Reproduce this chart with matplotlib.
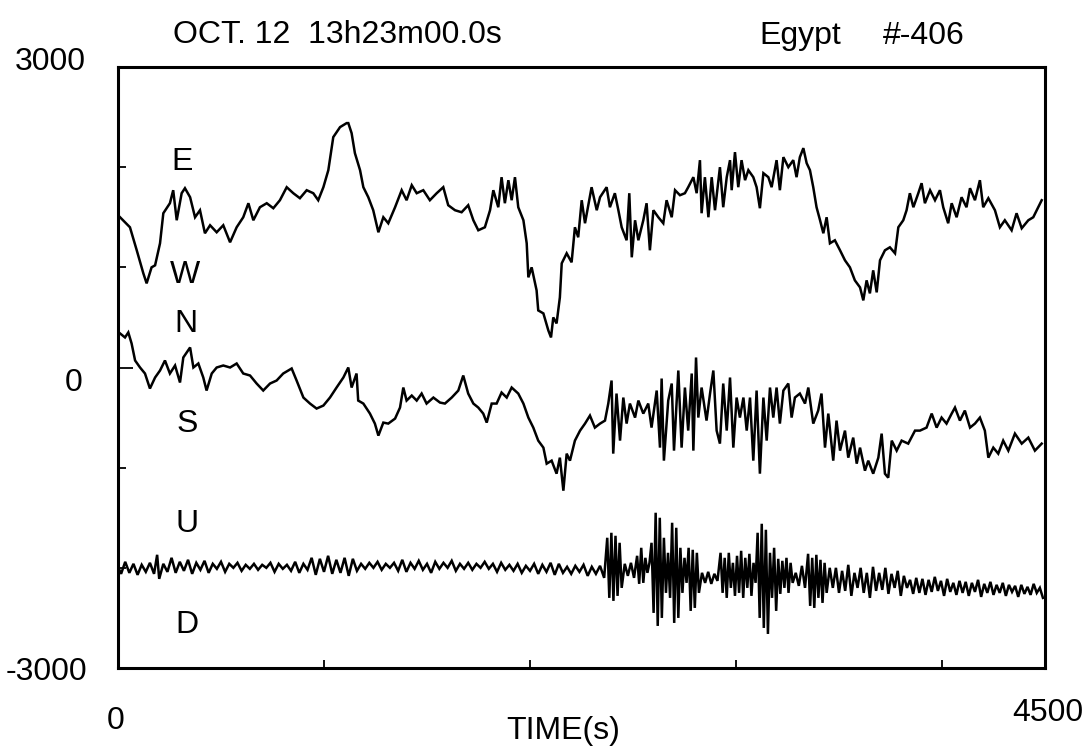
import numpy as np
import matplotlib
matplotlib.use("Agg")
from matplotlib import pyplot as plt

plt.rcParams['font.family'] = ['Liberation Sans', 'DejaVu Sans']

#  E-W component (time s, amplitude)
ew_t = [10, 58, 91, 123, 139, 163, 180, 204, 220, 252, 268, 285, 309, 325, 350, 374, 398, 422, 447, 479,
        511, 544, 576, 608, 633, 657, 689, 722, 754, 786, 819, 851, 883, 916, 948, 972, 997, 1021, 1045, 1078,
        1110, 1118, 1134, 1150, 1175, 1191, 1215, 1239, 1264, 1288, 1312, 1345, 1377, 1401, 1426, 1450, 1482, 1514, 1547, 1579,
        1603, 1636, 1668, 1700, 1725, 1749, 1781, 1806, 1822, 1846, 1862, 1878, 1895, 1911, 1927, 1943, 1968, 1984, 1992, 2008,
        2032, 2040, 2065, 2089, 2102, 2113, 2129, 2145, 2154, 2178, 2202, 2218, 2234, 2251, 2267, 2299, 2324, 2340, 2372, 2388,
        2412, 2429, 2445, 2469, 2482, 2494, 2510, 2526, 2550, 2566, 2582, 2599, 2623, 2647, 2663, 2688, 2704, 2728, 2752, 2768,
        2793, 2809, 2825, 2833, 2849, 2866, 2882, 2898, 2922, 2938, 2955, 2971, 2979, 2995, 3011, 3027, 3044, 3060, 3084, 3100,
        3116, 3133, 3157, 3173, 3197, 3213, 3230, 3254, 3278, 3294, 3310, 3327, 3343, 3359, 3375, 3391, 3408, 3424, 3440, 3456,
        3480, 3505, 3529, 3553, 3577, 3602, 3618, 3634, 3650, 3666, 3683, 3699, 3723, 3747, 3772, 3788, 3812, 3828, 3844, 3861,
        3885, 3901, 3917, 3942, 3966, 3990, 4006, 4030, 4047, 4071, 4095, 4119, 4136, 4160, 4184, 4200, 4225, 4257, 4281, 4305,
        4338, 4362, 4387, 4419, 4443, 4467, 4484]
ew_v = [1500, 1400, 1170, 940, 840, 1000, 1020, 1240, 1540, 1640, 1770, 1470, 1740, 1790, 1700, 1500, 1570, 1340, 1420, 1350,
        1420, 1250, 1400, 1500, 1640, 1470, 1600, 1640, 1590, 1670, 1800, 1740, 1690, 1770, 1740, 1670, 1800, 1970, 2300, 2400,
        2440, 2440, 2340, 2140, 1970, 1800, 1700, 1570, 1350, 1500, 1440, 1600, 1770, 1670, 1820, 1740, 1770, 1670, 1740, 1800,
        1620, 1570, 1550, 1620, 1470, 1370, 1400, 1570, 1770, 1600, 1900, 1640, 1870, 1670, 1900, 1600, 1470, 1240, 900, 1000,
        770, 570, 540, 370, 300, 500, 440, 700, 1040, 1140, 1050, 1400, 1300, 1670, 1440, 1800, 1570, 1700, 1800, 1600,
        1740, 1570, 1400, 1270, 1740, 1100, 1470, 1270, 1470, 1640, 1170, 1570, 1500, 1440, 1670, 1500, 1770, 1720, 1740, 1800,
        1900, 1740, 2070, 1540, 1900, 1500, 1900, 1570, 2000, 1600, 1900, 2070, 1770, 2150, 1800, 2070, 1870, 1970, 1900, 1800,
        1590, 1940, 1900, 1800, 2070, 1770, 2100, 2000, 2070, 1900, 2100, 2190, 2040, 1970, 1800, 1600, 1470, 1340, 1500, 1240,
        1270, 1170, 1070, 1000, 870, 800, 670, 870, 740, 970, 750, 1070, 1170, 1200, 1140, 1400, 1470, 1570, 1740, 1600,
        1740, 1840, 1640, 1770, 1670, 1770, 1600, 1440, 1640, 1500, 1700, 1600, 1790, 1670, 1870, 1600, 1690, 1570, 1400, 1470,
        1370, 1540, 1390, 1470, 1500, 1600, 1670]

#  N-S component
ns_t = [10, 34, 50, 66, 83, 107, 131, 155, 180, 204, 228, 252, 277, 301, 317, 350, 366, 390, 414, 430,
        455, 479, 511, 544, 576, 608, 641, 673, 705, 738, 770, 802, 843, 867, 900, 932, 964, 997, 1029, 1061,
        1094, 1118, 1134, 1158, 1166, 1191, 1223, 1247, 1264, 1288, 1312, 1345, 1369, 1385, 1401, 1426, 1450, 1474, 1498, 1531,
        1563, 1587, 1620, 1652, 1676, 1700, 1725, 1749, 1773, 1790, 1814, 1838, 1862, 1887, 1911, 1943, 1968, 1992, 2016, 2040,
        2065, 2081, 2105, 2129, 2145, 2162, 2178, 2194, 2218, 2243, 2267, 2291, 2315, 2340, 2364, 2380, 2396, 2404, 2420, 2437,
        2453, 2469, 2485, 2510, 2526, 2550, 2574, 2590, 2615, 2631, 2639, 2650, 2671, 2688, 2699, 2720, 2736, 2752, 2768, 2785,
        2793, 2806, 2817, 2833, 2857, 2874, 2890, 2906, 2922, 2938, 2955, 2971, 2987, 3003, 3019, 3036, 3052, 3068, 3084, 3100,
        3116, 3133, 3149, 3165, 3181, 3197, 3213, 3230, 3254, 3270, 3286, 3310, 3335, 3351, 3375, 3399, 3415, 3432, 3448, 3472,
        3488, 3505, 3529, 3545, 3569, 3586, 3602, 3626, 3642, 3666, 3691, 3707, 3723, 3739, 3756, 3780, 3804, 3836, 3869, 3893,
        3925, 3950, 3974, 3998, 4022, 4047, 4063, 4087, 4111, 4136, 4160, 4184, 4208, 4225, 4249, 4273, 4297, 4322, 4354, 4387,
        4419, 4451, 4484]
ns_v = [340, 300, 350, 240, 70, 0, -60, -210, -100, -30, 70, -60, 20, -150, 100, 200, 0, 40, -100, -230,
        -60, 0, 20, 0, 40, -60, -80, -160, -230, -160, -130, -60, -10, -130, -300, -360, -410, -380, -300, -200,
        -100, 0, -200, -60, -330, -360, -460, -560, -680, -550, -560, -510, -400, -200, -330, -280, -330, -260, -360, -300,
        -350, -360, -300, -230, -80, -260, -360, -400, -460, -550, -360, -360, -250, -300, -200, -260, -360, -500, -600, -730,
        -800, -960, -930, -1060, -900, -1230, -860, -930, -730, -630, -560, -480, -600, -560, -530, -360, -130, -860, -260, -730,
        -300, -560, -360, -500, -330, -460, -360, -600, -230, -800, -110, -930, -330, -160, -830, -30, -800, -200, -630, -60,
        -830, 100, -500, -200, -530, -260, -30, -630, -760, -160, -630, -100, -800, -300, -500, -300, -630, -300, -930, -230,
        -1060, -300, -730, -200, -500, -200, -560, -230, -160, -500, -300, -260, -360, -200, -560, -430, -260, -800, -460, -930,
        -530, -830, -630, -900, -700, -960, -800, -1030, -930, -1060, -900, -660, -1060, -1100, -730, -830, -730, -760, -630, -630,
        -600, -460, -600, -500, -560, -460, -400, -530, -430, -600, -560, -500, -630, -900, -800, -860, -730, -830, -660, -760,
        -700, -830, -760]

#  U-D component
ud_t = [0, 15, 35, 55, 75, 95, 115, 135, 155, 175, 190, 200, 220, 240, 260, 280, 300, 320, 340, 360,
        380, 400, 420, 440, 460, 480, 500, 520, 540, 560, 580, 600, 620, 640, 660, 680, 700, 720, 740, 760,
        780, 800, 820, 840, 860, 880, 900, 920, 940, 960, 980, 1000, 1020, 1040, 1060, 1080, 1100, 1120, 1140, 1160,
        1180, 1200, 1220, 1240, 1260, 1280, 1300, 1320, 1340, 1360, 1380, 1400, 1420, 1440, 1460, 1480, 1500, 1520, 1540, 1560,
        1580, 1600, 1620, 1640, 1660, 1680, 1700, 1720, 1740, 1760, 1780, 1800, 1820, 1840, 1860, 1880, 1900, 1920, 1940, 1960,
        1980, 2000, 2020, 2040, 2060, 2080, 2100, 2120, 2140, 2160, 2180, 2200, 2220, 2240, 2260, 2280, 2300, 2320, 2340, 2360,
        2375, 2385, 2395, 2405, 2415, 2425, 2435, 2445, 2460, 2475, 2490, 2505, 2520, 2530, 2540, 2550, 2560, 2570, 2580, 2590,
        2600, 2610, 2620, 2630, 2640, 2650, 2660, 2670, 2680, 2690, 2700, 2710, 2720, 2730, 2740, 2750, 2760, 2770, 2780, 2790,
        2800, 2810, 2820, 2835, 2850, 2865, 2880, 2895, 2910, 2925, 2935, 2945, 2955, 2965, 2975, 2985, 2995, 3005, 3015, 3025,
        3035, 3045, 3055, 3065, 3075, 3085, 3095, 3105, 3115, 3125, 3135, 3145, 3155, 3165, 3175, 3185, 3195, 3205, 3215, 3225,
        3235, 3245, 3255, 3265, 3275, 3290, 3305, 3320, 3335, 3350, 3360, 3370, 3380, 3390, 3400, 3410, 3420, 3430, 3440, 3455,
        3470, 3485, 3500, 3515, 3530, 3545, 3560, 3575, 3590, 3605, 3620, 3635, 3650, 3665, 3680, 3695, 3710, 3725, 3740, 3755,
        3770, 3785, 3800, 3815, 3830, 3845, 3860, 3875, 3890, 3905, 3920, 3935, 3950, 3965, 3980, 3995, 4010, 4025, 4040, 4055,
        4070, 4085, 4100, 4115, 4130, 4145, 4160, 4175, 4190, 4205, 4220, 4235, 4250, 4265, 4280, 4295, 4310, 4325, 4340, 4355,
        4370, 4385, 4400, 4415, 4430, 4445, 4460, 4475, 4490]
ud_v = [-1990, -2060, -1940, -2050, -1960, -2070, -1970, -2040, -1950, -2060, -1870, -2110, -1960, -2040, -1900, -2050, -1940, -2030, -1920, -2060,
        -1950, -2020, -1930, -2050, -1960, -2010, -1940, -2040, -1960, -2000, -1950, -2030, -1970, -2010, -1960, -2020, -1970, -2000, -1950, -2040,
        -1960, -2010, -1970, -2030, -1940, -2050, -1960, -2020, -1900, -2070, -1910, -2040, -1880, -2060, -1920, -2050, -1900, -2080, -1910, -2030,
        -1960, -2010, -1950, -2000, -1940, -2020, -1960, -2000, -1950, -2030, -1920, -2040, -1950, -2010, -1930, -2020, -1960, -2050, -1940, -2010,
        -1950, -2000, -1930, -2030, -1960, -2010, -1950, -2020, -1960, -2000, -1940, -2010, -1960, -2040, -1950, -2020, -1970, -2030, -1960, -2050,
        -1980, -2030, -1960, -2060, -1970, -2040, -1950, -2070, -1960, -2050, -1990, -2060, -1980, -2040, -1970, -2080, -1990, -2060, -1980, -2100,
        -1700, -2300, -1650, -2330, -1680, -2280, -1750, -2200, -1960, -2080, -1950, -2100, -1880, -2160, -1800, -2150, -1900, -2050, -1950, -1750,
        -2450, -1450, -2580, -1500, -2500, -1700, -2250, -1850, -2300, -1550, -2550, -1600, -2500, -1800, -2250, -1900, -2150, -1800, -2430, -1820,
        -2400, -1850, -2250, -2050, -2150, -2040, -2160, -2060, -2130, -1850, -2250, -1900, -2300, -1850, -2200, -1950, -2280, -1880, -2250, -1830,
        -2300, -1900, -2200, -1860, -2280, -1950, -2150, -1650, -2500, -1560, -2600, -1620, -2660, -1850, -2300, -1800, -2430, -1910, -2260, -1930,
        -2200, -1900, -2250, -1950, -2150, -2050, -2180, -1980, -2200, -1860, -2380, -1900, -2400, -1870, -2300, -1920, -2350, -1950, -2250, -2000,
        -2200, -2000, -2250, -2030, -2230, -1970, -2280, -2050, -2200, -2000, -2250, -2050, -2300, -1990, -2230, -2050, -2220, -2000, -2260, -2060,
        -2200, -2030, -2280, -2080, -2200, -2120, -2260, -2100, -2250, -2110, -2270, -2120, -2240, -2090, -2230, -2130, -2280, -2110, -2240, -2150,
        -2270, -2130, -2250, -2140, -2280, -2150, -2240, -2120, -2290, -2160, -2250, -2140, -2270, -2170, -2250, -2150, -2280, -2170, -2240, -2180,
        -2290, -2170, -2260, -2190, -2270, -2160, -2250, -2200, -2300]

comp_labels = [('E', 311, 2050), ('W', 325, 920), ('N', 330, 430),
               ('S', 335, -560), ('U', 335, -1560), ('D', 335, -2570)]

W, H = 1091, 747
fig = plt.figure(figsize=(W / 100, H / 100), dpi=100)
ax = fig.add_axes([118 / W, 1 - 668 / H, 927 / W, 601 / H])

for t, v in [(ew_t, ew_v), (ns_t, ns_v), (ud_t, ud_v)]:
    ax.plot(np.array(t), np.array(v), color='black', lw=1.8, solid_joinstyle='miter')

ax.set_xlim(0, 4500)
ax.set_ylim(-3000, 3000)
ax.set_xticks([1000, 2000, 3000, 4000])
ax.set_yticks([-2000, -1000, 1000, 2000])
ax.set_yticks([0], minor=True)
ax.set_xticklabels([])
ax.set_yticklabels([])
ax.tick_params(which='major', direction='in', length=6, width=1.3, color='black')
ax.tick_params(which='minor', direction='in', length=11, width=1.3, color='black')
ax.tick_params(axis='x', which='minor', length=0)
for s in ax.spines.values():
    s.set_linewidth(2.2)

fs = 23
for lab, x, y in comp_labels:
    ax.text(x, y, lab, fontsize=fs, ha='center', va='center')

fig.text(337 / W, 1 - 35 / H, 'OCT. 12  13h23m00.0s', fontsize=fs, ha='center', va='center')
fig.text(800 / W, 1 - 36 / H, 'Egypt', fontsize=fs, ha='center', va='center')
fig.text(924 / W, 1 - 36 / H, '#-406', fontsize=fs, ha='center', va='center')
fig.text(86 / W, 1 - 62 / H, '3000', fontsize=fs, ha='right', va='center')
fig.text(82 / W, 1 - 383 / H, '0', fontsize=fs, ha='right', va='center')
fig.text(87 / W, 1 - 672 / H, '-3000', fontsize=fs, ha='right', va='center')
fig.text(116 / W, 1 - 721 / H, '0', fontsize=fs, ha='center', va='center')
fig.text(1048 / W, 1 - 713 / H, '4500', fontsize=fs, ha='center', va='center')
fig.text(563 / W, 1 - 731 / H, 'TIME(s)', fontsize=fs, ha='center', va='center')

fig.savefig('out.png', dpi=100)
